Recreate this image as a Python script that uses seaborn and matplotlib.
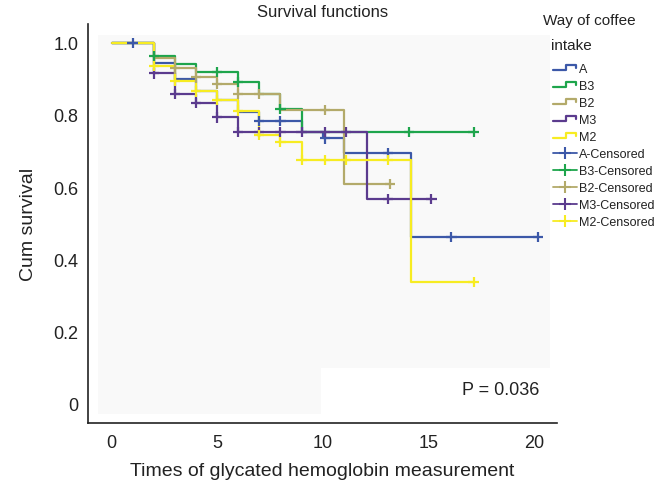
import numpy as np
import pandas as pd
import matplotlib
matplotlib.use("Agg")
import matplotlib.pyplot as plt
import seaborn as sns
from matplotlib.lines import Line2D
from matplotlib.patches import Rectangle
from matplotlib.legend_handler import HandlerBase

# Kaplan-Meier steps: event times and survival after each event
groups = ["A", "B3", "B2", "M3", "M2"]
colors = {"A": "#3c58a8", "B3": "#1ea54c", "B2": "#b3aa6a", "M3": "#5b3b8e", "M2": "#f7ec22"}

a_times = [2, 3, 4, 5, 6, 7, 9, 10, 11, 14.2]
a_surv = [0.943, 0.900, 0.865, 0.840, 0.807, 0.783, 0.752, 0.735, 0.695, 0.462]
a_cens = [1, 7, 8, 10.1, 13.1, 16.1, 20.2]

b3_times = [2, 3, 4, 6, 7, 8, 9]
b3_surv = [0.964, 0.941, 0.918, 0.892, 0.858, 0.816, 0.752]
b3_cens = [2, 5, 6, 8, 14.1, 17.15]

b2_times = [2, 3, 4, 5, 6, 8, 11]
b2_surv = [0.958, 0.929, 0.904, 0.886, 0.858, 0.813, 0.608]
b2_cens = [3, 4, 5, 6, 7, 10.1, 13.2]

m3_times = [2, 3, 4, 5, 6, 12.1]
m3_surv = [0.915, 0.858, 0.833, 0.793, 0.752, 0.567]
m3_cens = [2, 3, 4, 5, 6, 7, 8, 9, 10.1, 11.1, 13.1, 15.15]

m2_times = [2, 3, 4, 5, 6, 7, 8, 9, 14.2]
m2_surv = [0.936, 0.895, 0.865, 0.841, 0.812, 0.745, 0.726, 0.676, 0.337]
m2_cens = [2, 3, 4, 5, 6, 7, 8, 9, 10.1, 11.1, 13.1, 17.15]

p_text = "P = 0.036"

series = {
    "A": (a_times, a_surv, a_cens),
    "B3": (b3_times, b3_surv, b3_cens),
    "B2": (b2_times, b2_surv, b2_cens),
    "M3": (m3_times, m3_surv, m3_cens),
    "M2": (m2_times, m2_surv, m2_cens),
}

# build long-form tables for seaborn
curve_rows = []
cens_rows = []
for g in groups:
    t, s, c = series[g]
    t_all = [0] + list(t) + [max(c)]
    s_all = [1.0] + list(s) + [s[-1]]
    for ti, si in zip(t_all, s_all):
        curve_rows.append({"group": g, "t": ti, "S": si})
    for ci in c:
        k = np.searchsorted(t_all, ci, side="right") - 1
        cens_rows.append({"group": g, "t": ci, "S": s_all[k]})
curves = pd.DataFrame(curve_rows)
cens = pd.DataFrame(cens_rows)

sns.set_style("white")
plt.rcParams["font.family"] = ["Liberation Sans", "DejaVu Sans"]

fig = plt.figure(figsize=(6.57, 4.89), dpi=100)
ax = fig.add_axes([0.1344, 0.133, 0.7134, 0.816])

# faint plot area and white box behind the p-value
ax.add_patch(Rectangle((-0.64, -0.027), 21.41, 1.047, facecolor="#f9f9f9", edgecolor="none", zorder=0))
ax.add_patch(Rectangle((9.92, -0.027), 10.85, 0.127, facecolor="white", edgecolor="none", zorder=0.5))

sns.lineplot(data=curves, x="t", y="S", hue="group", palette=colors, hue_order=groups,
             estimator=None, sort=False, drawstyle="steps-post", linewidth=1.6,
             legend=False, ax=ax, zorder=2)
sns.scatterplot(data=cens, x="t", y="S", hue="group", palette=colors, hue_order=groups,
                marker="+", s=55, linewidth=1.6, legend=False, ax=ax, zorder=3)

ax.set_xlim(-1.1, 21.1)
ax.set_ylim(-0.053, 1.052)
ax.set_xticks([0, 5, 10, 15, 20])
ax.set_yticks([0, 0.2, 0.4, 0.6, 0.8, 1.0])
ax.set_yticklabels(["0", "0.2", "0.4", "0.6", "0.8", "1.0"])
ax.tick_params(axis="both", direction="in", length=7, width=1, color="#222222",
               labelsize=13, pad=7, colors="#222222")
ax.tick_params(axis="x", pad=8)
for side in ["top", "right"]:
    ax.spines[side].set_visible(False)
for side in ["left", "bottom"]:
    ax.spines[side].set_color("#222222")
    ax.spines[side].set_linewidth(1.2)

ax.set_xlabel("Times of glycated hemoglobin measurement", fontsize=14, color="#222222", labelpad=8)
ax.set_ylabel("Cum survival", fontsize=14, color="#222222", labelpad=12)
ax.set_title("Survival functions", fontsize=12, color="#222222", pad=6)
ax.text(20.25, 0.04, p_text, ha="right", va="center", fontsize=13, color="#222222")


class StepHandler(HandlerBase):
    def create_artists(self, legend, orig_handle, xdescent, ydescent, width, height, fontsize, trans):
        x0, y0 = -xdescent, -ydescent
        xs = [x0, x0 + 0.55 * width, x0 + 0.55 * width, x0 + 0.95 * width, x0 + 0.95 * width]
        ys = [y0 + 0.2 * height, y0 + 0.2 * height, y0 + 0.75 * height, y0 + 0.75 * height, y0 + 0.45 * height]
        ln = Line2D(xs, ys, color=orig_handle.get_color(), linewidth=1.6, transform=trans)
        return [ln]


handles = []
labels = []
for g in groups:
    handles.append(Line2D([], [], color=colors[g]))
    labels.append(g)
for g in groups:
    handles.append(Line2D([], [], color=colors[g], marker="+", markersize=8, markeredgewidth=1.5, linewidth=1.3))
    labels.append(g + "-Censored")

handler_map = {h: StepHandler() for h in handles[:5]}
fig.legend(handles, labels, handler_map=handler_map, loc="upper left",
           bbox_to_anchor=(0.8417, 0.869), frameon=False, fontsize=9,
           handlelength=1.9, handletextpad=0.15, labelspacing=0.4,
           borderpad=0, borderaxespad=0, labelcolor="#222222")
fig.text(543 / 657, 1 - 21 / 489, "Way of coffee", fontsize=11, color="#222222", va="center", ha="left")
fig.text(551 / 657, 1 - 46 / 489, "intake", fontsize=11, color="#222222", va="center", ha="left")

fig.savefig("out.png", dpi=100)
